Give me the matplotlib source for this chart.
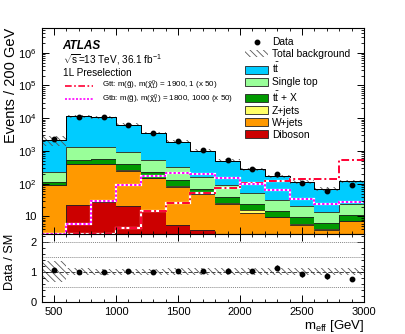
import numpy as np
import matplotlib
matplotlib.use('Agg')
import matplotlib.pyplot as plt
from matplotlib.patches import Patch
from matplotlib.lines import Line2D
from matplotlib.ticker import MultipleLocator, LogLocator, FuncFormatter, NullFormatter, FixedLocator

plt.rcParams['font.family'] = ['Liberation Sans', 'DejaVu Sans']
plt.rcParams['mathtext.fontset'] = 'custom'
plt.rcParams['mathtext.rm'] = 'Liberation Sans'
plt.rcParams['mathtext.it'] = 'Liberation Sans:italic'
plt.rcParams['mathtext.bf'] = 'Liberation Sans:bold'
plt.rcParams['hatch.linewidth'] = 0.6

# ---------------- data ----------------
bin_edges = [400, 600, 800, 1000, 1200, 1400, 1600, 1800, 2000, 2200, 2400, 2600, 2800, 3000]
data      = [2250, 11200, 10600, 6400, 3500, 1950, 1050, 520, 280, 194, 103, 60, 89]
diboson   = [1.5, 22, 27, 21, 15, 5.5, 3.7, 1.5, 1.0, 0.5, 0.5, 0.3, 0.4]
wjets     = [89.5, 368, 363, 229, 135, 75.5, 44.3, 22.5, 12, 8.9, 5.0, 3.5, 6.6]
zjets     = [2, 8, 8, 5, 3, 2, 1.5, 1, 2.7, 0.5, 0.3, 0.2, 0.3]
ttx       = [22, 132, 162, 135, 80, 47, 18.5, 15, 8.3, 5.1, 3.6, 2.2, 3.7]
singletop = [118, 770, 790, 560, 297, 200, 96, 51, 27, 17, 11.6, 7.8, 13]
ttbar     = [1887, 10000, 9450, 5390, 3005, 1580, 846, 414, 221, 138, 92, 56, 93]
bkg_rel_unc = [0.35, 0.11, 0.10, 0.10, 0.10, 0.11, 0.11, 0.11, 0.12, 0.12, 0.12, 0.12, 0.12]
gtt_x50   = [3.0, 3.0, 3.0, 4.5, 14.6, 26, 51, 76, 108, 124, 140, 140, 530]
gtb_x50   = [3.0, 5.9, 29, 89, 176, 217, 194, 146, 98, 64, 33, 23.5, 28]

components = [
    ('Diboson', diboson, '#cc0000'),
    ('W+jets', wjets, '#ff9900'),
    ('Z+jets', zjets, '#ffff66'),
    (r'$\mathregular{t\bar{t}}$ + X', ttx, '#009900'),
    ('Single top', singletop, '#99ff99'),
    (r'$\mathregular{t\bar{t}}$', ttbar, '#00ccff'),
]

edges = np.array(bin_edges, dtype=float)
centers = 0.5 * (edges[:-1] + edges[1:])
widths = np.diff(edges)
data_a = np.array(data, dtype=float)

fig = plt.figure(figsize=(4.06, 3.34), dpi=100)
ax = fig.add_axes([0.1025, 0.2994, 0.7941, 0.6168])
rx = fig.add_axes([0.1025, 0.0958, 0.7941, 0.2036], sharex=ax)

# stacked backgrounds
base = np.full(len(centers), 1e-2)
for name, vals, col in components:
    top = base + np.array(vals, dtype=float)
    ax.stairs(top, edges, baseline=base, fill=True, color=col, lw=0)
    ax.stairs(top, edges, baseline=None, color='#222222', lw=0.6)
    base = top
total = base

# total background uncertainty
unc = np.array(bkg_rel_unc)
ax.bar(centers, 2 * unc * total, bottom=total * (1 - unc), width=widths,
       fill=False, hatch='\\\\\\\\\\', edgecolor='#555555', lw=0)
ax.stairs(total, edges, baseline=None, color='black', lw=0.7)

# signals
for vals, col, ls in [(gtt_x50, '#ff0033', (0, (4, 1.5, 1, 1.5))), (gtb_x50, '#ff00ff', (0, (1.2, 1.0)))]:
    ax.stairs(vals, edges, baseline=None, color='white', lw=1.6)
    ax.stairs(vals, edges, baseline=None, color=col, lw=1.4, ls=ls)

# data
ax.errorbar(centers, data_a, yerr=np.sqrt(data_a), fmt='o', color='black', ms=3.2, lw=0.8, capsize=0)

ax.set_yscale('log')
ax.set_ylim(2.9, 5.7e6)
ax.set_xlim(400, 3000)

def logfmt(v, pos):
    e = int(round(np.log10(v)))
    if e == 1:
        return '10'
    return r'$\mathregular{10^{%d}}$' % e
ax.yaxis.set_major_locator(LogLocator(base=10, numticks=10))
ax.yaxis.set_major_formatter(FuncFormatter(logfmt))
ax.yaxis.set_minor_locator(LogLocator(base=10, subs=np.arange(2, 10), numticks=20))
ax.yaxis.set_minor_formatter(NullFormatter())
ax.xaxis.set_major_locator(MultipleLocator(500))
ax.xaxis.set_minor_locator(MultipleLocator(100))
for a in (ax, rx):
    a.tick_params(which='both', direction='in', top=True, right=True, labelsize=8)
    a.tick_params(which='major', length=5, width=0.7)
    a.tick_params(which='minor', length=2.5, width=0.6)
ax.tick_params(labelbottom=False)

ax.set_ylabel('Events / 200 GeV', fontsize=10.5, loc='top')
ax.yaxis.set_label_coords(-0.074, 1.0)

# text
ax.text(0.065, 0.896, 'ATLAS', transform=ax.transAxes, fontsize=8.5, fontweight='bold', fontstyle='italic')
ax.text(0.065, 0.830, r'$\mathregular{\sqrt{s}}$=13 TeV, 36.1 fb$\mathregular{^{-1}}$', transform=ax.transAxes, fontsize=7.2)
ax.text(0.065, 0.766, '1L Preselection', transform=ax.transAxes, fontsize=7.2)

sig_labels = [
    (r'Gtt: m($\mathregular{\tilde{g}}$), m($\mathregular{\tilde{\chi}^{0}_{1}}$) = 1900, 1 (x 50)', '#ff0033', (0, (4, 1.5, 1, 1.5)), 0.72),
    (r'Gtb: m($\mathregular{\tilde{g}}$), m($\mathregular{\tilde{\chi}^{0}_{1}}$) = 1800, 1000 (x 50)', '#ff00ff', (0, (1.2, 1.0)), 0.655),
]
for lab, col, ls, yy in sig_labels:
    ax.plot([0.073, 0.159], [yy, yy], transform=ax.transAxes, color=col, lw=1.2, ls=ls)
    ax.text(0.186, yy, lab, transform=ax.transAxes, fontsize=5.8, va='center')

handles = [Line2D([], [], marker='o', color='black', ls='none', ms=3.2),
           Patch(facecolor='white', hatch='\\\\\\\\\\', edgecolor='#555555', lw=0)]
labels = ['Data', 'Total background']
for name, vals, col in components[::-1]:
    handles.append(Patch(facecolor=col, edgecolor='#222222', lw=0.6))
    labels.append(name)
ax.legend(handles, labels, loc='upper left', bbox_to_anchor=(0.63, 0.955), frameon=False,
          fontsize=7.4, handlelength=2.3, handleheight=0.75, labelspacing=0.2,
          handletextpad=0.35, borderaxespad=0, borderpad=0)

# ratio panel
ratio = data_a / total
rerr = np.sqrt(data_a) / total
rx.bar(centers, 2 * unc, bottom=1 - unc, width=widths, fill=False,
       hatch='\\\\\\\\\\', edgecolor='#555555', lw=0)
for yv in (0.5, 1.5, 2.0):
    rx.axhline(yv, color='#888888', lw=0.7, ls=(0, (1, 1)))
rx.axhline(1.0, color='#444444', lw=0.7, ls=(0, (4, 2)))
rx.errorbar(centers, ratio, yerr=rerr, fmt='o', color='black', ms=3.2, lw=0.8, capsize=0)
rx.set_ylim(0, 2.25)
rx.set_xlim(400, 3000)
rx.yaxis.set_major_locator(FixedLocator([0, 1, 2]))
rx.yaxis.set_minor_locator(MultipleLocator(0.2))
rx.set_ylabel('Data / SM', fontsize=9.2, loc='top')
rx.yaxis.set_label_coords(-0.078, 1.0)
rx.set_xlabel(r'$\mathregular{m_{eff}}$ [GeV]', fontsize=9.5, loc='right', labelpad=1)

fig.savefig('out.png', dpi=100)
